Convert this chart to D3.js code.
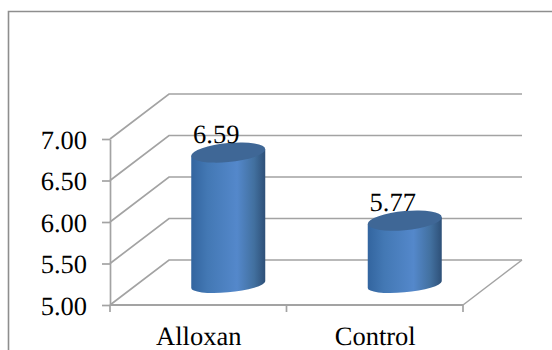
<!DOCTYPE html>
<html>
<head>
<meta charset="utf-8">
<script src="https://cdn.jsdelivr.net/npm/d3@7"></script>
<style>
  html, body { margin: 0; padding: 0; background: #fff; }
  text { font-family: "Liberation Serif", serif; fill: #000; text-rendering: geometricPrecision; }
</style>
</head>
<body>
<svg id="chart" width="552" height="350"></svg>
<script>
// Chart content
const categories = ["Alloxan", "Control"];
const seriesValues = [6.59, 5.77];
const tickValues = [5, 5.5, 6, 6.5, 7];

const svg = d3.select("#chart");
const gridColor = "#a3a3a3";
const fontSize = 26.5;

// Oblique projection: the back wall sits up and to the right of the front plane
const depth = { dx: 59, dy: -45 };
const y = d3.scaleLinear().domain([5, 7]).range([305, 139]);
const x = d3.scaleBand().domain(categories).range([110, 463]);

// Tilted ellipse used for the cylinder caps; the silhouette edges touch it
// at its leftmost and rightmost points. The base curve is a little flatter.
const half = 37;
const capRy = 9.5;
const baseRy = 7.8;
const capTilt = -5.5;
const tiltRad = capTilt * Math.PI / 180;
const capRx = Math.sqrt((half * half - (capRy * Math.sin(tiltRad)) ** 2) / Math.cos(tiltRad) ** 2);
const sideDrop = -(capRx * capRx - capRy * capRy) * Math.sin(tiltRad) * Math.cos(tiltRad) / half;

// Cylinder shading runs across the width of the bar
const grad = svg.append("defs").append("linearGradient")
  .attr("id", "cylinder")
  .attr("x1", "0%").attr("x2", "100%").attr("y1", "0%").attr("y2", "0%");
[[0, "#33659f"], [0.22, "#4378b4"], [0.62, "#5488cb"], [0.85, "#42709f"], [1, "#2e5078"]]
  .forEach(([o, c]) => grad.append("stop").attr("offset", o).attr("stop-color", c));

// Outer chart frame: only the top and left edges fall inside the canvas
svg.append("path")
  .attr("d", d3.line()([[552, 11.5], [8.5, 11.5], [8.5, 350]]))
  .attr("fill", "none").attr("stroke", "#8e8e8e").attr("stroke-width", 1.6);

// Gridlines wrap from the side wall onto the back wall
const [xStart, xEnd] = x.range();
svg.append("g").selectAll("path").data(tickValues).join("path")
  .attr("d", v => d3.line()([
    [xStart, y(v)],
    [xStart + depth.dx, y(v) + depth.dy],
    [xEnd + depth.dx, y(v) + depth.dy]
  ]))
  .attr("fill", "none").attr("stroke", gridColor).attr("stroke-width", 1.7);

// Floor edge on the right
svg.append("path")
  .attr("d", d3.line()([
    [xEnd, y(5)],
    [xEnd + depth.dx, y(5) + depth.dy]
  ]))
  .attr("fill", "none").attr("stroke", gridColor).attr("stroke-width", 1.5);

// Value axis
const yAxis = svg.append("g")
  .attr("transform", `translate(${xStart},0)`)
  .call(d3.axisLeft(y).tickValues(tickValues).tickSize(8).tickSizeOuter(0).tickPadding(15).tickFormat(d3.format(".2f")));
yAxis.select(".domain").attr("stroke", gridColor).attr("stroke-width", 1.7);
yAxis.selectAll(".tick line").attr("stroke", gridColor).attr("stroke-width", 1.7);
yAxis.selectAll("text")
  .attr("font-size", fontSize).attr("font-family", "Liberation Serif")
  .attr("dy", 0).attr("y", 9).attr("fill", "#000");

// Category axis: ticks sit on band boundaries, labels under band centres
const xAxis = svg.append("g").attr("transform", `translate(0,${y(5)})`);
xAxis.append("line").attr("x1", xStart).attr("x2", xEnd)
  .attr("stroke", gridColor).attr("stroke-width", 2);
const boundaries = categories.map(c => x(c)).concat(xEnd);
xAxis.selectAll(".boundary").data(boundaries).join("line")
  .attr("class", "boundary")
  .attr("x1", d => d).attr("x2", d => d).attr("y1", 0).attr("y2", 7)
  .attr("stroke", gridColor).attr("stroke-width", 1.7);
xAxis.selectAll("text").data(categories).join("text")
  .attr("x", c => x(c) + x.bandwidth() / 2 + 0.5)
  .attr("y", 40)
  .attr("text-anchor", "middle")
  .attr("font-size", fontSize)
  .text(c => c);

// Bars are standing cylinders placed partway into the floor depth
const barCx = c => x(c) + x.bandwidth() / 2 + depth.dx / 2 + 0.5;
const midY = v => y(v) + depth.dy / 2 + 2;
const arc = (sweep, px, py, ry = capRy) => `A${capRx},${ry} ${capTilt} 0 ${sweep} ${px},${py}`;
const capPath = (cx, cy) =>
  `M${cx - half},${cy + sideDrop}` +
  arc(1, cx + half, cy - sideDrop) +
  arc(1, cx - half, cy + sideDrop) + "Z";
const bodyPath = (cx, top, base) =>
  `M${cx - half},${top + sideDrop}` +
  `L${cx - half},${base + sideDrop}` +
  arc(0, cx + half, base - sideDrop, baseRy) +
  `L${cx + half},${top - sideDrop}Z`;

const bars = svg.append("g").selectAll("g")
  .data(categories.map((c, i) => ({ c, v: seriesValues[i] })))
  .join("g");
bars.append("path")
  .attr("d", d => bodyPath(barCx(d.c), midY(d.v), midY(5)))
  .attr("fill", "url(#cylinder)");
bars.append("path")
  .attr("d", d => capPath(barCx(d.c), midY(d.v)))
  .attr("fill", "#3f6796");

// Value labels sit above each cap, slightly left of the bar centre
bars.append("text")
  .attr("x", d => barCx(d.c) - 12)
  .attr("y", d => midY(d.v) - 9.5)
  .attr("text-anchor", "middle")
  .attr("font-size", fontSize)
  .text(d => d.v.toFixed(2));
</script>
</body>
</html>
